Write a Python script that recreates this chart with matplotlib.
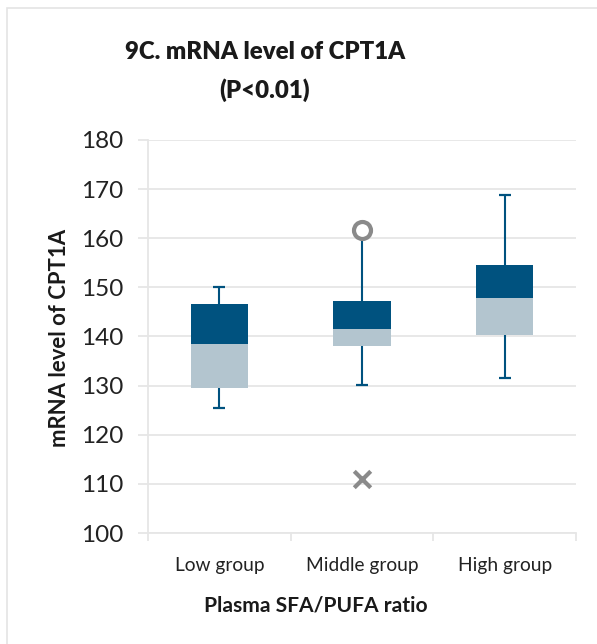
import matplotlib
matplotlib.use("Agg")
import matplotlib.pyplot as plt
from matplotlib.patches import Rectangle

categories = ["Low group", "Middle group", "High group"]
q1 = [129.5, 138.0, 140.3]
median = [138.4, 141.6, 147.9]
q3 = [146.6, 147.2, 154.6]
whisker_low = [125.4, 130.1, 131.6]
whisker_high = [150.1, 160.5, 168.9]
outlier_x = [1]
outlier_y = [161.7]
mean_x = [1]
mean_y = [110.9]
yticks = [100, 110, 120, 130, 140, 150, 160, 170, 180]

DARK = "#00527f"
LIGHT = "#b3c5cf"
GRID = "#e6e6e6"
GRAYM = "#8a8a8a"

plt.rcParams["font.family"] = ["Lato", "DejaVu Sans"]

W, H = 597, 644
fig = plt.figure(figsize=(W / 100, H / 100), dpi=100)

# outer frame
fig.patches.append(Rectangle((7 / W, -0.05), 1.0, 1 - 8 / H + 0.05,
                             transform=fig.transFigure, fill=False,
                             edgecolor="#e4e4e4", linewidth=1.2))

ax = fig.add_axes([148 / W, 1 - 533 / H, 428 / W, 393 / H])
ax.set_xlim(-0.5, 2.5)
ax.set_ylim(100, 180)

bw = 0.4
xs = list(range(len(categories)))
for i in xs:
    ax.vlines(i, whisker_low[i], q1[i], color=DARK, lw=1.5, zorder=2)
    ax.vlines(i, q3[i], whisker_high[i], color=DARK, lw=1.5, zorder=2)
    cap_top = i != 1
    ax.hlines(whisker_low[i], i - 0.042, i + 0.042, color=DARK, lw=1.6, zorder=2)
    if cap_top:
        ax.hlines(whisker_high[i], i - 0.042, i + 0.042, color=DARK, lw=1.6, zorder=2)
    ax.bar(i, median[i] - q1[i], bottom=q1[i], width=bw, color=LIGHT,
           edgecolor="none", zorder=3)
    ax.bar(i, q3[i] - median[i], bottom=median[i], width=bw, color=DARK,
           edgecolor="none", zorder=3)

ax.scatter(outlier_x, outlier_y, s=150, facecolors="white", edgecolors=GRAYM,
           linewidths=3, zorder=4)
ax.scatter(mean_x, mean_y, s=140, marker="x", color=GRAYM, linewidths=3, zorder=4)

ax.set_yticks(yticks)
ax.set_yticklabels([str(v) for v in yticks])
ax.grid(axis="y", color=GRID, lw=1.3, zorder=0)
ax.set_axisbelow(True)
ax.tick_params(axis="y", length=7, width=1.3, color=GRID, pad=11,
               labelsize=17.5, labelcolor="#222222")

ax.set_xticks(xs)
ax.set_xticklabels(categories)
ax.set_xticks([-0.5, 0.5, 1.5, 2.5], minor=True)
ax.tick_params(axis="x", which="major", length=0, pad=17, labelsize=13.8,
               labelcolor="#222222")
ax.tick_params(axis="x", which="minor", length=6, width=1.3, color=GRID,
               direction="out")

for s in ["top", "right"]:
    ax.spines[s].set_visible(False)
for s in ["left", "bottom"]:
    ax.spines[s].set_color(GRID)
    ax.spines[s].set_linewidth(1.3)

fig.text(265 / W, 1 - 52 / H, "9C. mRNA level of CPT1A", ha="center", va="center",
         fontsize=17.3, fontweight="heavy", color="#1a1a1a")
fig.text(265 / W, 1 - 90 / H, "(P<0.01)", ha="center", va="center",
         fontsize=17.3, fontweight="heavy", color="#1a1a1a")
fig.text(316 / W, 1 - 605 / H, "Plasma SFA/PUFA ratio", ha="center", va="center",
         fontsize=15.1, fontweight="bold", color="#1a1a1a")
fig.text(59 / W, 1 - 338 / H, "mRNA level of CPT1A", ha="center", va="center",
         rotation=90, fontsize=15.9, fontweight="bold", color="#1a1a1a")

fig.savefig("out.png", dpi=100)
